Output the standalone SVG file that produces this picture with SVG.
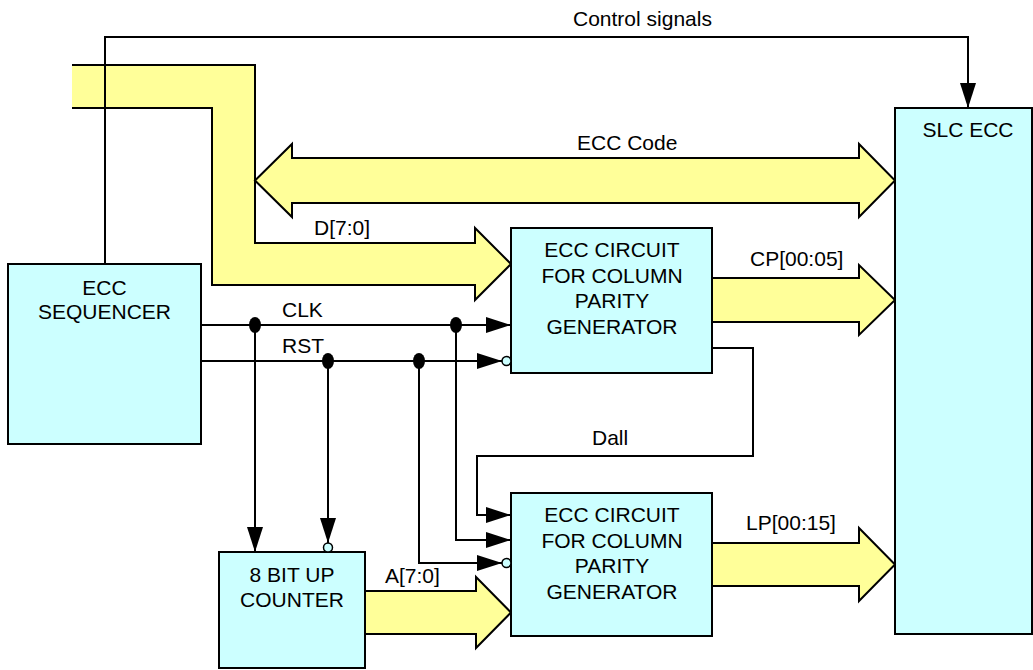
<svg xmlns="http://www.w3.org/2000/svg" width="1033" height="670" viewBox="0 0 1033 670">
<style>
text{font-family:"Liberation Sans",Arial,sans-serif;font-size:21px;fill:#000}
.box{fill:#CCFFFF;stroke:#000;stroke-width:2}
.bus{fill:#FFFF99;stroke:#000;stroke-width:2;stroke-linejoin:miter}
.w{fill:none;stroke:#000;stroke-width:2}
.c{text-anchor:middle}
.dot{fill:#000}
</style>
<defs>
<marker id="arr" markerUnits="userSpaceOnUse" markerWidth="30" markerHeight="20" refX="25" refY="8" orient="auto" overflow="visible">
<path d="M0,0 L25,8 L0,16 z" fill="#000"/>
</marker>
<marker id="arrb" markerUnits="userSpaceOnUse" markerWidth="40" markerHeight="20" refX="34" refY="8" orient="auto" overflow="visible">
<path d="M0,0 L25,8 L0,16 z" fill="#000"/>
<circle cx="29.5" cy="8" r="4.5" fill="#CCFFFF" stroke="#000" stroke-width="1.5"/>
</marker>
</defs>

<g id="buses">
<path d="M72,65 H255 V243 H475 V228 L511,264 L475,300 V285 H212 V108 H72 Z" fill="#FFFF99" stroke="none"/>
<path d="M72,65 H255 V243 H475 V228 L511,264 L475,300 V285 H212 V108 H72" fill="none" stroke="#000" stroke-width="2"/>
<path class="bus" d="M255,180.5 L292,144 V158 H859 V144 L895,180.5 L859,217 V203 H292 V217 Z"/>
<path class="bus" d="M712,278 H859 V265 L895,300 L859,335 V322 H712 Z"/>
<path class="bus" d="M712,543 H859 V528 L895,564.5 L859,601 V586 H712 Z"/>
<path class="bus" d="M365,591 H476 V577 L511,612.5 L476,648 V634 H365 Z"/>
</g>

<g id="n-sequencer">
<rect class="box" x="8" y="264" width="193" height="180"/>
<text class="c" x="104.5" y="295">ECC</text>
<text class="c" x="104.5" y="319">SEQUENCER</text>
</g>
<g id="n-slc">
<rect class="box" x="895" y="108" width="137" height="526"/>
<text class="c" x="968" y="137">SLC ECC</text>
</g>
<g id="n-cp">
<rect class="box" x="511" y="228" width="201" height="145"/>
<text class="c" x="612" y="257">ECC CIRCUIT</text>
<text class="c" x="612" y="283">FOR COLUMN</text>
<text class="c" x="612" y="308">PARITY</text>
<text class="c" x="612" y="334">GENERATOR</text>
</g>
<g id="n-lp">
<rect class="box" x="511" y="493" width="201" height="143"/>
<text class="c" x="612" y="522">ECC CIRCUIT</text>
<text class="c" x="612" y="548">FOR COLUMN</text>
<text class="c" x="612" y="573">PARITY</text>
<text class="c" x="612" y="599">GENERATOR</text>
</g>
<g id="n-counter">
<rect class="box" x="219" y="552" width="146" height="116"/>
<text class="c" x="292" y="582">8 BIT UP</text>
<text class="c" x="292" y="607">COUNTER</text>
</g>

<g id="connectors">
<path class="w" d="M105,264 V37 H968 V108" marker-end="url(#arr)"/>
<path class="w" d="M201,325 H511" marker-end="url(#arr)"/>
<path class="w" d="M201,361 H511" marker-end="url(#arrb)"/>
<path class="w" d="M255,325 V552" marker-end="url(#arr)"/>
<path class="w" d="M328,361 V552" marker-end="url(#arrb)"/>
<path class="w" d="M456,325 V540 H511" marker-end="url(#arr)"/>
<path class="w" d="M419,361 V563 H511" marker-end="url(#arrb)"/>
<path class="w" d="M712,348 H753 V456 H477 V515 H511" marker-end="url(#arr)"/>
<ellipse class="dot" cx="255" cy="325" rx="6" ry="8"/>
<ellipse class="dot" cx="456" cy="325" rx="6" ry="8"/>
<ellipse class="dot" cx="328" cy="361" rx="6" ry="8"/>
<ellipse class="dot" cx="419" cy="361" rx="6" ry="8"/>
</g>

<g id="labels">
<text x="573" y="26">Control signals</text>
<text x="577" y="150">ECC Code</text>
<text x="314" y="235">D[7:0]</text>
<text x="282" y="317">CLK</text>
<text x="282" y="353">RST</text>
<text x="750" y="266">CP[00:05]</text>
<text x="592" y="445">Dall</text>
<text x="746" y="530">LP[00:15]</text>
<text x="385" y="583">A[7:0]</text>
</g>
</svg>
